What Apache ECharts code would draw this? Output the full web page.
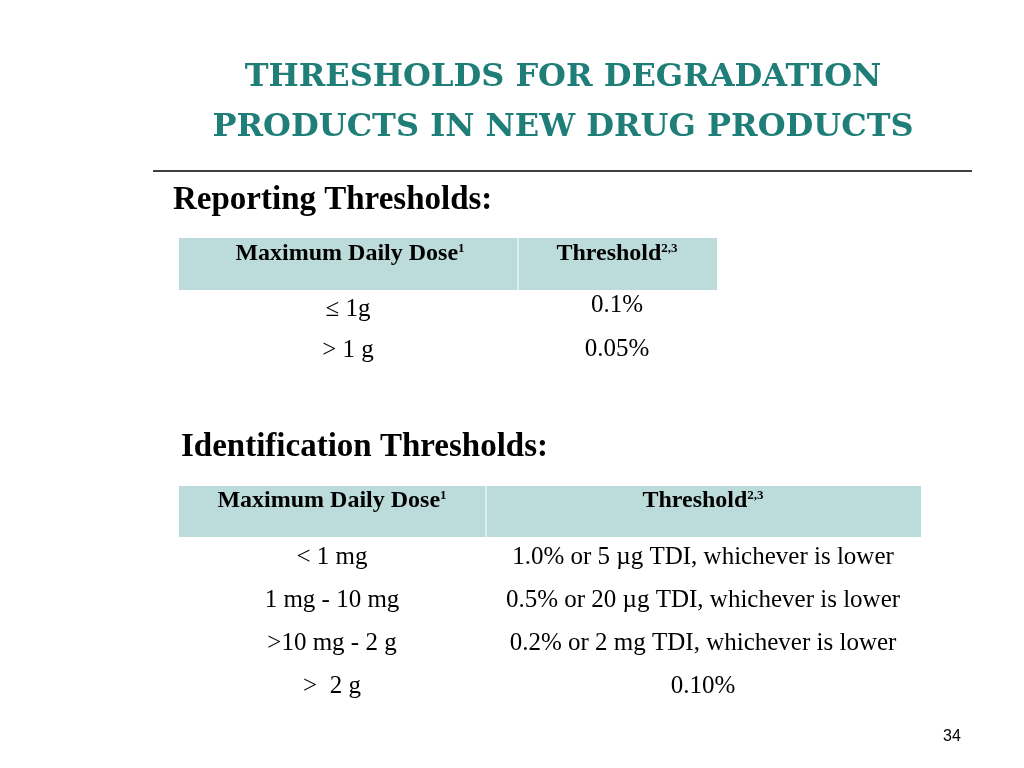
<!DOCTYPE html>
<html><head><meta charset="utf-8">
<script src="https://cdn.jsdelivr.net/npm/echarts@6/dist/echarts.min.js"></script>
<style>html,body{margin:0;padding:0;background:#fff}#c{width:1024px;height:768px}</style>
</head><body><div id="c"></div>
<script>
var titleLines = ['THRESHOLDS FOR DEGRADATION', 'PRODUCTS IN NEW DRUG PRODUCTS'];
var reportingHeader = ['Maximum Daily Dose{s|1}', 'Threshold{s|2,3}'];
var reportingDose = ['\u2264 1g', '> 1 g'];
var reportingThreshold = ['0.1%', '0.05%'];
var identHeader = ['Maximum Daily Dose{s|1}', 'Threshold{s|2,3}'];
var identDose = ['< 1 mg', '1 mg - 10 mg', '>10 mg - 2 g', '>  2 g'];
var identThreshold = ['1.0% or 5 \u00b5g TDI, whichever is lower', '0.5% or 20 \u00b5g TDI, whichever is lower', '0.2% or 2 mg TDI, whichever is lower', '0.10%'];

var serif = 'Liberation Serif';
var els = [];
function txt(x, y, t, size, opts) {
  opts = opts || {};
  els.push({type:'text', x:x, y:y, style:{text:t, font:(opts.bold?'bold ':'')+size+'px "'+(opts.family||serif)+'"',
    fill:opts.fill||'#000', textAlign:opts.align||'center', textVerticalAlign:'middle',
    rich:{s:{fontSize:13, fontWeight:'bold', fontFamily:serif, verticalAlign:'top', padding:[0,0,10,0], fill:'#000'}}}});
}
titleLines.forEach(function(t,i){ txt(563, 78+i*50, t, 32, {bold:true, family:'DejaVu Serif', fill:'#1f7f78'}); });
els.push({type:'line', shape:{x1:153,y1:171,x2:972,y2:171}, style:{stroke:'#000', lineWidth:1.5}});
txt(173, 200, 'Reporting Thresholds:', 33, {bold:true, align:'left'});
els.push({type:'rect', shape:{x:179,y:238,width:538,height:52}, style:{fill:'#bcdcdb'}});
els.push({type:'line', shape:{x1:518,y1:238,x2:518,y2:290}, style:{stroke:'#fff', lineWidth:1}});
txt(350, 254, reportingHeader[0], 24, {bold:true});
txt(617, 254, reportingHeader[1], 24, {bold:true});
reportingDose.forEach(function(t,i){ txt(348, 309+i*41, t, 25); });
reportingThreshold.forEach(function(t,i){ txt(617, 305+i*44, t, 25); });
txt(181, 447, 'Identification Thresholds:', 33, {bold:true, align:'left'});
els.push({type:'rect', shape:{x:179,y:486,width:742,height:51}, style:{fill:'#bcdcdb'}});
els.push({type:'line', shape:{x1:486,y1:486,x2:486,y2:537}, style:{stroke:'#fff', lineWidth:1}});
txt(332, 501, identHeader[0], 24, {bold:true});
txt(703, 501, identHeader[1], 24, {bold:true});
identDose.forEach(function(t,i){ txt(332, 557+i*43, t, 25); });
identThreshold.forEach(function(t,i){ txt(703, 557+i*43, t, 25); });
txt(952, 737, '34', 16, {family:'Liberation Sans'});

var chart = echarts.init(document.getElementById('c'));
chart.setOption({backgroundColor:'#fff', graphic:{elements:els}});
</script></body></html>
